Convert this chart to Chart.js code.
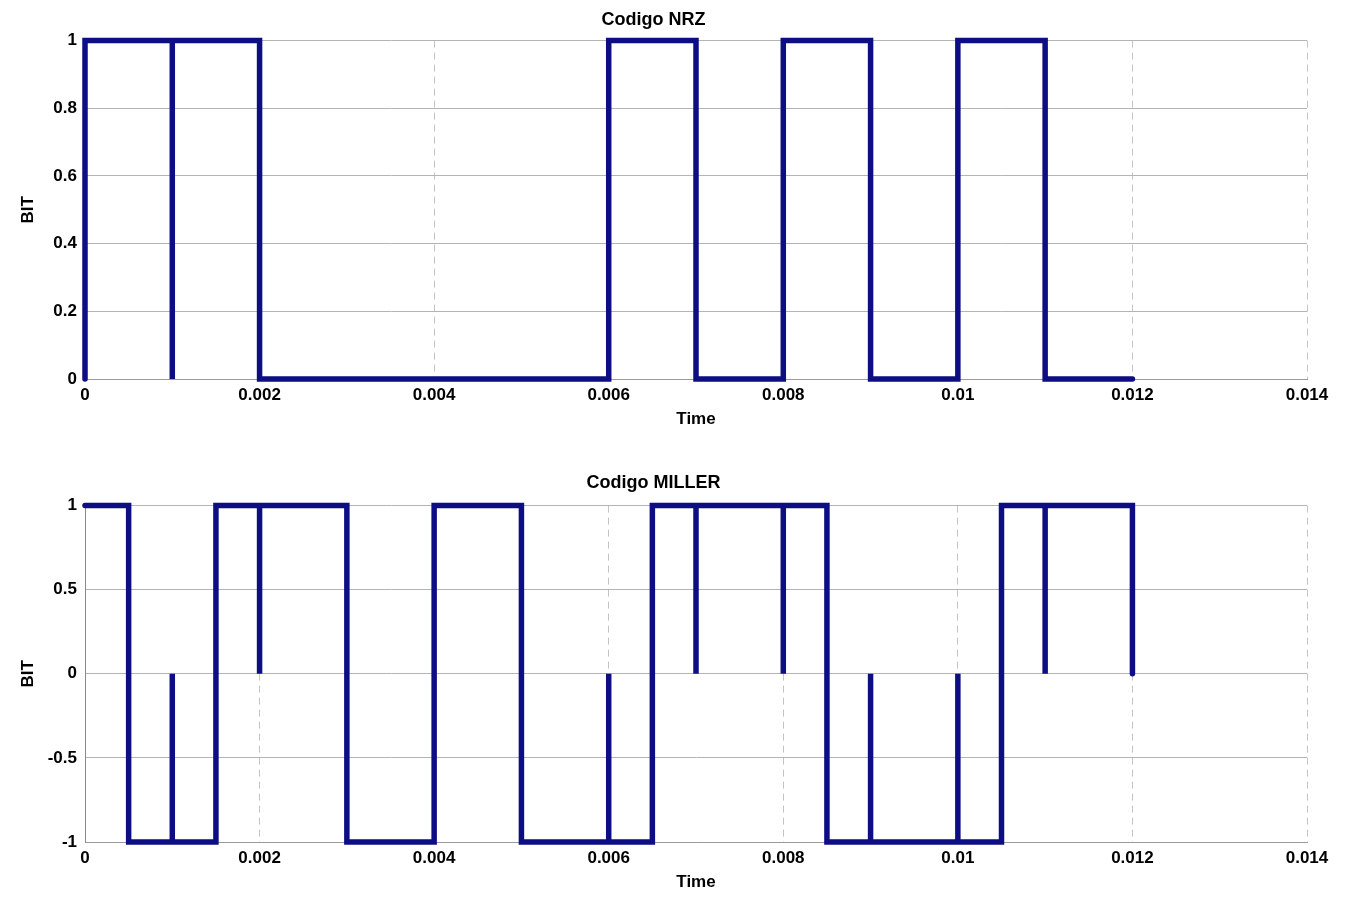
<!DOCTYPE html>
<html>
<head>
<meta charset="utf-8">
<script src="https://cdn.jsdelivr.net/npm/chart.js@4.4.1/dist/chart.umd.min.js"></script>
<style>
  html, body { margin: 0; padding: 0; background: #fff; }
  #wrap { position: relative; width: 1347px; height: 897px; }
  .plot { position: absolute; left: 0; }
</style>
</head>
<body>
<div id="wrap">
  <div class="plot" style="top:0;width:1347px;height:448px"><canvas id="nrzChart"></canvas></div>
  <div class="plot" style="top:448px;width:1347px;height:449px"><canvas id="millerChart"></canvas></div>
</div>
<script>
// eje de tiempo comun
const timeTicks = [0, 0.002, 0.004, 0.006, 0.008, 0.01, 0.012, 0.014];
const timeTickLabels = ['0', '0.002', '0.004', '0.006', '0.008', '0.01', '0.012', '0.014'];

// Codigo NRZ (puntos de la polilinea tal como la traza MATLAB)
const nrzTime = [0, 0, 0.001, 0.001, 0.001, 0.002, 0.002, 0.006, 0.006, 0.007, 0.007, 0.008, 0.008, 0.009, 0.009, 0.010, 0.010, 0.011, 0.011, 0.012];
const nrzBit  = [0, 1, 1,     0,     1,     1,     0,     0,     1,     1,     0,     0,     1,     1,     0,     0,     1,     1,     0,     0];
const nrzTicks = [0, 0.2, 0.4, 0.6, 0.8, 1];
const nrzTickLabels = ['0', '0.2', '0.4', '0.6', '0.8', '1'];

// Codigo MILLER
const millerTime = [0, 0.0005, 0.0005, 0.001, 0.001, 0.001, 0.0015, 0.0015, 0.002, 0.002, 0.002, 0.003, 0.003, 0.004, 0.004, 0.005, 0.005, 0.006, 0.006, 0.006, 0.0065, 0.0065, 0.007, 0.007, 0.007, 0.008, 0.008, 0.008, 0.0085, 0.0085, 0.009, 0.009, 0.009, 0.010, 0.010, 0.010, 0.0105, 0.0105, 0.011, 0.011, 0.011, 0.012, 0.012];
const millerLevel = [1, 1,     -1,     -1,    0,     -1,    -1,     1,      1,     0,     1,     1,     -1,    -1,    1,     1,     -1,    -1,    0,     -1,    -1,     1,      1,     0,     1,     1,     0,     1,     1,      -1,     -1,    0,     -1,    -1,    0,     -1,    -1,     1,      1,     0,     1,     1,     0];
const millerTicks = [-1, -0.5, 0, 0.5, 1];
const millerTickLabels = ['-1', '-0.5', '0', '0.5', '1'];

const lineColor = '#0e0e84';
const fontFamily = '"Liberation Sans", Arial, sans-serif';

function makeChart(id, cfg) {
    const points = cfg.xs.map((x, i) => ({ x: x, y: cfg.ys[i] }));
    return new Chart(document.getElementById(id), {
        type: 'line',
        data: {
            datasets: [{
                data: points,
                borderColor: lineColor,
                borderWidth: 5.5,
                borderCapStyle: 'round',
                borderJoinStyle: 'miter',
                pointRadius: 0,
                fill: false,
                tension: 0,
                clip: 8
            }]
        },
        options: {
            responsive: true,
            maintainAspectRatio: false,
            animation: false,
            layout: { padding: { left: 0, right: 40, top: 0, bottom: 0 } },
            plugins: {
                legend: { display: false },
                tooltip: { enabled: false },
                title: {
                    display: true,
                    text: cfg.title,
                    color: '#000',
                    font: { family: fontFamily, size: 18, weight: 'bold' },
                    padding: cfg.titlePad
                }
            },
            scales: {
                x: {
                    type: 'linear',
                    min: 0,
                    max: 0.014,
                    afterBuildTicks: s => { s.ticks = timeTicks.map(v => ({ value: v })); },
                    afterFit: s => { s.height = cfg.xHeight; },
                    ticks: {
                        autoSkip: false,
                        maxRotation: 0,
                        padding: 6,
                        color: '#000',
                        font: { family: fontFamily, size: 17, weight: 'bold' },
                        callback: (v, i) => timeTickLabels[i]
                    },
                    grid: { color: '#c4c4c4', lineWidth: 1, drawTicks: false },
                    // en v4 el dash del borde se aplica a la rejilla vertical
                    border: { display: true, color: '#9a9a9a', dash: [7, 5] },
                    title: {
                        display: true,
                        text: 'Time',
                        color: '#000',
                        font: { family: fontFamily, size: 17, weight: 'bold' },
                        padding: { top: 0, bottom: cfg.timePad }
                    }
                },
                y: {
                    min: cfg.yTicks[0],
                    max: cfg.yTicks[cfg.yTicks.length - 1],
                    afterBuildTicks: s => { s.ticks = cfg.yTicks.map(v => ({ value: v })); },
                    afterFit: s => { s.width = 85; },
                    ticks: {
                        padding: 8,
                        color: '#000',
                        font: { family: fontFamily, size: 17, weight: 'bold' },
                        callback: (v, i) => cfg.yTickLabels[i]
                    },
                    grid: { color: '#b4b4b4', lineWidth: 1, drawTicks: false },
                    border: { display: true, color: '#8a8a8a' },
                    title: {
                        display: true,
                        text: 'BIT',
                        color: '#000',
                        font: { family: fontFamily, size: 17, weight: 'bold' },
                        padding: { top: 18, bottom: 0 }
                    }
                }
            }
        }
    });
}

makeChart('nrzChart', {
    title: 'Codigo NRZ',
    titlePad: { top: 9, bottom: 10 },
    xs: nrzTime,
    ys: nrzBit,
    yTicks: nrzTicks,
    yTickLabels: nrzTickLabels,
    xHeight: 69,
    timePad: 18
});

makeChart('millerChart', {
    title: 'Codigo MILLER',
    titlePad: { top: 24, bottom: 12 },
    xs: millerTime,
    ys: millerLevel,
    yTicks: millerTicks,
    yTickLabels: millerTickLabels,
    xHeight: 55,
    timePad: 4
});
</script>
</body>
</html>
